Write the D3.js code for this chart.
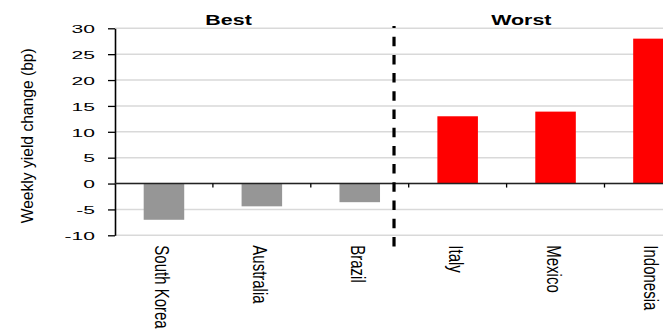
<!DOCTYPE html>
<html>
<head>
<meta charset="utf-8">
<script src="https://cdn.jsdelivr.net/npm/d3@7"></script>
<style>
  html, body { margin: 0; padding: 0; background: #fff; }
  svg { display: block; }
  text { font-family: "Liberation Sans", Arial, sans-serif; fill: #000; }
</style>
</head>
<body>
<svg id="chart" width="663" height="332"></svg>
<script>
const categories = ["South Korea", "Australia", "Brazil", "Italy", "Mexico", "Indonesia"];
const values = [-7.0, -4.4, -3.6, 13.0, 13.9, 28.0];
const groups = ["Best", "Best", "Best", "Worst", "Worst", "Worst"];
const groupNames = ["Best", "Worst"];
const yTicks = [-10, -5, 0, 5, 10, 15, 20, 25, 30];
const yTickLabels = ["-10", "-5", "0", "5", "10", "15", "20", "25", "30"];
const yLabel = "Weekly yield change (bp)";

const colors = { Best: "#969696", Worst: "#ff0000" };

const svg = d3.select("#chart");
const left = 115, step = 97.9;
const x = d3.scaleBand()
  .domain(categories)
  .range([left, left + step * categories.length])
  .paddingInner(0.586)
  .paddingOuter(0.293);
const y = d3.scaleLinear().domain([-10, 30]).range([235.3, 28.3]);

// gridlines
svg.append("g").selectAll("line").data(yTicks).join("line")
  .attr("x1", left).attr("x2", 663)
  .attr("y1", d => y(d)).attr("y2", d => y(d))
  .attr("stroke", "#d9d9d9").attr("stroke-width", 1.6);

// bars
svg.append("g").selectAll("rect").data(categories).join("rect")
  .attr("x", d => x(d))
  .attr("width", x.bandwidth())
  .attr("y", (d, i) => y(Math.max(0, values[i])))
  .attr("height", (d, i) => Math.abs(y(values[i]) - y(0)))
  .attr("fill", (d, i) => colors[groups[i]]);

// y axis
const yAxis = svg.append("g")
  .attr("transform", `translate(${left},0)`)
  .call(d3.axisLeft(y).tickValues(yTicks).tickSize(7).tickSizeOuter(0)
    .tickFormat(d => yTickLabels[yTicks.indexOf(d)]));
yAxis.select(".domain").attr("stroke", "#000").attr("stroke-width", 1.6);
yAxis.selectAll(".tick line").attr("stroke", "#000").attr("stroke-width", 1.3);
yAxis.selectAll(".tick text")
  .attr("x", 0).attr("dy", "0.36em")
  .attr("transform", "translate(-20,0) scale(1.8,1)")
  .style("font-size", "11.7px")
  .style("font-family", '"Liberation Sans", Arial, sans-serif')
  .attr("fill", "#000");

// x axis (zero line)
const xAxis = svg.append("g")
  .attr("transform", `translate(0,${y(0)})`)
  .call(d3.axisBottom(x).tickSize(0).tickSizeOuter(0));
xAxis.select(".domain").attr("d", `M${left},0H663`).attr("stroke", "#222").attr("stroke-width", 1.4);
xAxis.selectAll(".tick text")
  .attr("y", 0).attr("dy", 0)
  .attr("text-anchor", "start")
  .attr("transform", `translate(-9,${y(-10) - y(0) + 10}) rotate(90) scale(1,1.4)`)
  .style("font-size", "15px")
  .style("font-family", '"Liberation Sans", Arial, sans-serif')
  .attr("fill", "#000");

// boundary ticks on the zero line
const gap = (x.step() - x.bandwidth()) / 2;
svg.append("g").selectAll("line").data(categories.slice(1)).join("line")
  .attr("x1", d => x(d) - gap).attr("x2", d => x(d) - gap)
  .attr("y1", y(0)).attr("y2", y(0) + 4)
  .attr("stroke", "#000").attr("stroke-width", 1.3);

// divider (dashed)
const divX = x("Brazil") + x.bandwidth() / 2 + x.step() * 0.35;
svg.append("line")
  .attr("x1", divX).attr("x2", divX)
  .attr("y1", y(30) - 2.3).attr("y2", y(-10) + 14)
  .attr("stroke", "#000").attr("stroke-width", 3.2)
  .attr("stroke-dasharray", "9.5,8.7")
  .attr("stroke-dashoffset", 7.5);

// group headers
const groupCenters = [x(categories[1]) + x.bandwidth() / 2 - x.step() * 0.34,
                      x(categories[4]) + x.bandwidth() / 2 - x.step() * 0.35];
svg.append("g").selectAll("text").data(groupNames).join("text")
  .attr("transform", (d, i) => `translate(${groupCenters[i]},${y(30) - 3.3}) scale(1.53,1)`)
  .attr("text-anchor", "middle")
  .style("font-size", "14px")
  .style("font-weight", "bold")
  .text(d => d);

// y-axis title
svg.append("text")
  .attr("transform", `translate(33.3,${(y(30) + y(-10)) / 2 + 4}) rotate(-90)`)
  .attr("text-anchor", "middle")
  .attr("textLength", 175)
  .attr("lengthAdjust", "spacingAndGlyphs")
  .style("font-size", "16px")
  .text(yLabel);
</script>
</body>
</html>
